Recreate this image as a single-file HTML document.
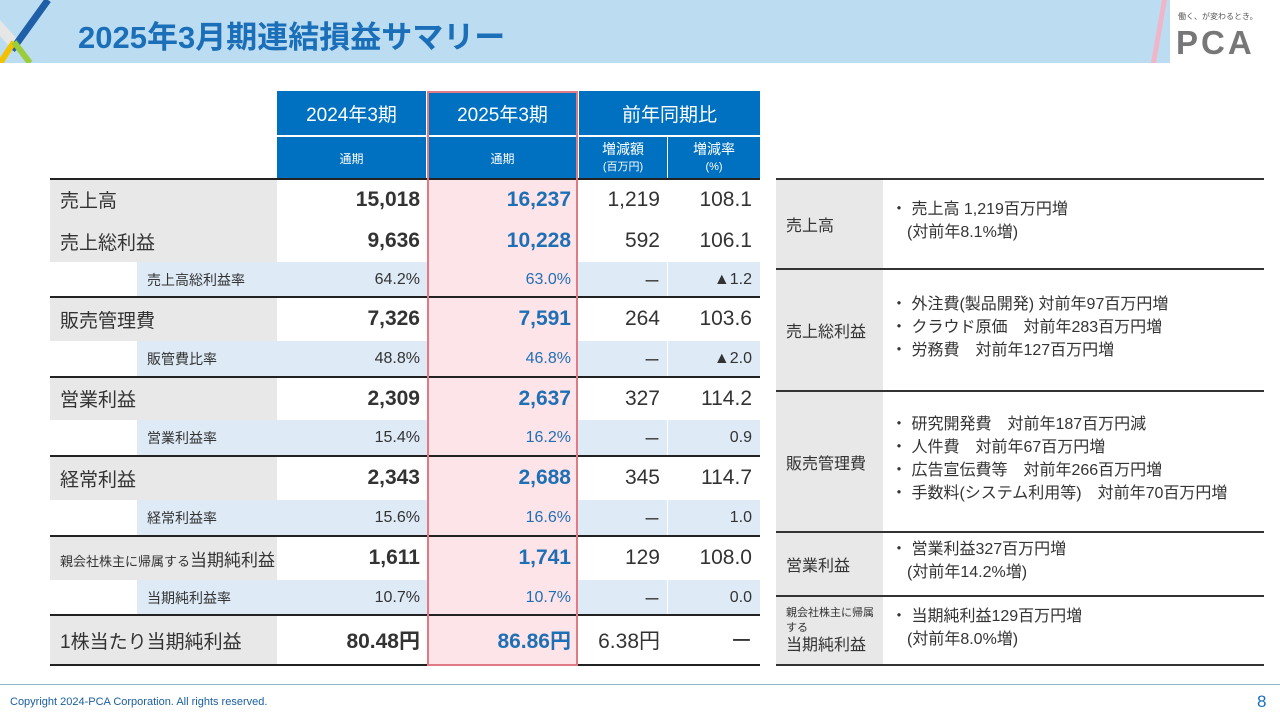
<!DOCTYPE html>
<html><head><meta charset="utf-8"><style>
body{margin:0;width:1280px;height:720px;position:relative;background:#fff;overflow:hidden;font-family:"Liberation Sans","Noto Sans CJK JP",sans-serif;color:#333}
.a{position:absolute;box-sizing:border-box}
.c{display:flex;align-items:center}
</style></head><body>
<div class="a" style="left:0;top:0;width:1170px;height:63px;background:#bcdcf2"></div>
<svg class="a" style="left:0;top:0" width="80" height="63">
<polygon points="0,20 20,42 14,52 0,36" fill="#e6e6e6"/>
<line x1="48" y1="0" x2="12" y2="50" stroke="#1f5fa8" stroke-width="7"/>
<line x1="0" y1="63" x2="14" y2="42" stroke="#f2c200" stroke-width="6"/>
<line x1="14" y1="42" x2="30" y2="63" stroke="#9bcc3c" stroke-width="6"/>
</svg>
<svg class="a" style="left:1150px;top:0" width="20" height="63"><polygon points="12,0 17,0 6,63 1,63" fill="#f0b6c8"/></svg>
<div class="a" style="left:78px;top:12px;font-size:31px;font-weight:bold;color:#1a6fb8">2025年3月期連結損益サマリー</div>
<div class="a" style="left:1178px;top:11px;font-size:8px;color:#555">働く、が変わるとき。</div>
<div class="a" style="left:1176px;top:24px;font-size:33px;font-weight:bold;color:#777;letter-spacing:3px">PCA</div>
<div id="t"></div>
<div class="a" style="left:0;top:684px;width:1280px;height:1px;background:#8cb8c8"></div>
<div class="a" style="left:10px;top:696px;font-size:11px;color:#1a5fa0">Copyright 2024-PCA Corporation. All rights reserved.</div>
<div class="a" style="left:1257px;top:692px;font-size:17px;color:#1a6fb8">8</div>
<script>
const T=document.getElementById('t');
function box(name,x,y,w,h,css,txt){const d=document.createElement('div');d.className='a c';d.style.cssText=`left:${x}px;top:${y}px;width:${w}px;height:${h}px;`+css;if(txt!==undefined)d.innerHTML='<div>'+txt+'</div>';


T.appendChild(d);return d;}
const BL='#0070c0';
const HC=`background:${BL};color:#fff;justify-content:center;text-align:center;`;
box('header-2024',277,91,150,44,HC+'font-size:19px;border-right:1px solid #fff','2024年3期');
box('header-2025',427,91,151,44,HC+'font-size:19px','2025年3期');
box('header-yoy',578,91,182,44,HC+'font-size:19px;border-left:1px solid #fff','前年同期比');
box('subheader-2024',277,136,150,43,HC+'font-size:12px;border-right:1px solid #fff;border-top:1px solid #fff','通期');
box('subheader-2025',427,136,151,43,HC+'font-size:12px;border-top:1px solid #fff','通期');
box('subheader-diff',578,136,90,43,HC+'font-size:14px;line-height:16px;border-left:1px solid #fff;border-right:1px solid #fff;border-top:1px solid #fff','増減額<br><span style="font-size:11px">(百万円)</span>');
box('subheader-rate',668,136,92,43,HC+'font-size:14px;line-height:16px;border-top:1px solid #fff','増減率<br><span style="font-size:11px">(%)</span>');
const rows=[
['m','売上高','15,018','16,237','1,219','108.1',179,41],
['m','売上総利益','9,636','10,228','592','106.1',220,42],
['s','売上高総利益率','64.2%','63.0%','ー','▲1.2',262,35],
['m','販売管理費','7,326','7,591','264','103.6',297,44],
['s','販管費比率','48.8%','46.8%','ー','▲2.0',341,36],
['m','営業利益','2,309','2,637','327','114.2',377,43],
['s','営業利益率','15.4%','16.2%','ー','0.9',420,36],
['m','経常利益','2,343','2,688','345','114.7',456,44],
['s','経常利益率','15.6%','16.6%','ー','1.0',500,36],
['n','親会社株主に帰属する<span style="font-size:17px">当期純利益</span>','1,611','1,741','129','108.0',536,44],
['s','当期純利益率','10.7%','10.7%','ー','0.0',580,35],
['m','1株当たり当期純利益','80.48円','86.86円','6.38円','ー',615,50]];
rows.forEach((r,i)=>{const [k,l,a,b,c,d,y,h]=r;const sub=k==='s';
 const fs=sub?16:21, lb='#e8e8e8', sb='#deeaf6';
 if(sub){box('row-indent-'+i,50,y,87,h,'background:#fff');box('row-label-'+i,137,y,140,h,`background:${sb};font-size:14px;padding-left:10px`,l);}
 else box('row-label-'+i,50,y,227,h,`background:${lb};font-size:${k==='n'?13:19}px;padding-left:10px;white-space:nowrap`,l);
 const bg=sub?sb:'#fff';
 box('val-2024-'+i,277,y,150,h,`background:${bg};font-size:${fs}px;${sub?'':'font-weight:bold;'}justify-content:flex-end;padding-right:7px`,a);
 box('val-2025-'+i,427,y,151,h,`background:#fde4e8;color:#1f6fb5;font-size:${fs}px;${sub?'':'font-weight:bold;'}justify-content:flex-end;padding-right:7px`,b);
 box('val-diff-'+i,578,y,90,h,`background:${bg};font-size:${fs}px;justify-content:flex-end;padding-right:7px;border-right:1px solid #fff`,c);
 box('val-rate-'+i,668,y,92,h,`background:${bg};font-size:${fs}px;justify-content:flex-end;padding-right:8px`,d);
 if(!sub&&i!==1) box('row-rule-'+i,50,y-1,710,2,'background:#222');
});
box('table-bottom-rule',50,664,710,2,'background:#222');
box('highlight-2025',427,91,151,575,'border:2px solid #e07a86;background:transparent');
const notes=[['売上高','・ 売上高 1,219百万円増<br>　(対前年8.1%増)',179,90],
['売上総利益','・ 外注費(製品開発) 対前年97百万円増<br>・ クラウド原価　対前年283百万円増<br>・ 労務費　対前年127百万円増',269,122],
['販売管理費','・ 研究開発費　対前年187百万円減<br>・ 人件費　対前年67百万円増<br>・ 広告宣伝費等　対前年266百万円増<br>・ 手数料(システム利用等)　対前年70百万円増',391,141],
['営業利益','・ 営業利益327百万円増<br>　(対前年14.2%増)',532,64],
['<div style="line-height:13px"><span style="font-size:11px">親会社株主に帰属<br>する</span><br><span style="font-size:16px;line-height:22px">当期純利益</span></div>','・ 当期純利益129百万円増<br>　(対前年8.0%増)',596,69]];
notes.forEach((n,i)=>{box('note-label-'+i,776,n[2],107,n[3],'background:#e8e8e8;font-size:16px;padding-left:10px',n[0]);
 box('note-text-'+i,883,n[2],381,n[3],'font-size:16px;line-height:23px;padding-left:8px;padding-bottom:6px',n[1]);
 box('note-rule-'+i,776,n[2]-1,488,2,'background:#333');});
box('note-bottom-rule',776,664,488,2,'background:#333');
</script>
</body></html>
